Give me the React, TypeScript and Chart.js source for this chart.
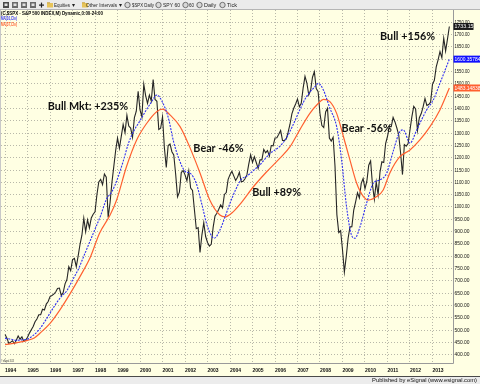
import React, { useEffect, useRef } from "react";
import { Chart, registerables } from "chart.js";

Chart.register(...registerables);

// ---------- DATA ----------
const START_YEAR = 1994;

// S&P 500 monthly closes, Jan 1994 .. Oct 2013 (last = partial month)
const closes1994to1998 = [
  481.6, 467.1, 445.8, 450.9, 456.5, 444.3, 458.3, 475.5, 462.7, 472.4, 453.7, 459.3,
  470.4, 487.4, 500.7, 514.7, 533.4, 544.8, 562.1, 561.9, 584.4, 581.5, 605.4, 615.9,
  636.0, 640.4, 645.5, 654.2, 669.1, 670.6, 640.0, 652.0, 687.3, 705.3, 757.0, 740.7,
  786.2, 790.8, 757.1, 801.3, 848.3, 885.1, 954.3, 899.5, 947.3, 914.6, 955.4, 970.4,
  980.3, 1049.3, 1101.8, 1111.8, 1090.8, 1133.8, 1120.7, 957.3, 1017.0, 1098.7, 1163.6, 1229.2,
];
const closes1999to2003 = [
  1279.6, 1238.3, 1286.4, 1335.2, 1301.8, 1372.7, 1328.7, 1320.4, 1282.7, 1362.9, 1388.9, 1469.3,
  1394.5, 1366.4, 1498.6, 1452.4, 1420.6, 1454.6, 1430.8, 1517.7, 1436.5, 1429.4, 1315.0, 1320.3,
  1366.0, 1239.9, 1160.3, 1249.5, 1255.8, 1224.4, 1211.2, 1133.6, 1040.9, 1059.8, 1139.5, 1148.1,
  1130.2, 1106.7, 1147.4, 1076.9, 1067.1, 989.8, 911.6, 916.1, 815.3, 885.8, 936.3, 879.8,
  855.7, 841.2, 848.2, 916.9, 963.6, 974.5, 990.3, 1008.0, 996.0, 1050.7, 1058.2, 1111.9,
];
const closes2004to2008 = [
  1131.1, 1144.9, 1126.2, 1107.3, 1120.7, 1140.8, 1101.7, 1104.2, 1114.6, 1130.2, 1173.8, 1211.9,
  1181.3, 1203.6, 1180.6, 1156.9, 1191.5, 1191.3, 1234.2, 1220.3, 1228.8, 1207.0, 1249.5, 1248.3,
  1280.1, 1280.7, 1294.8, 1310.6, 1270.1, 1270.2, 1276.7, 1303.8, 1335.9, 1377.9, 1400.6, 1418.3,
  1438.2, 1406.8, 1420.9, 1482.4, 1530.6, 1503.4, 1455.3, 1474.0, 1526.8, 1549.4, 1481.1, 1468.4,
  1378.6, 1330.6, 1322.7, 1385.6, 1400.4, 1280.0, 1267.4, 1282.8, 1166.4, 968.8, 896.2, 903.3,
];
const closes2009to2013 = [
  825.9, 735.1, 797.9, 872.8, 919.1, 919.3, 987.5, 1020.6, 1057.1, 1036.2, 1095.6, 1115.1,
  1073.9, 1104.5, 1169.4, 1186.7, 1089.4, 1030.7, 1101.6, 1049.3, 1141.2, 1183.3, 1180.6, 1257.6,
  1286.1, 1327.2, 1325.8, 1363.6, 1345.2, 1320.6, 1292.3, 1218.9, 1131.4, 1253.3, 1247.0, 1257.6,
  1312.4, 1365.7, 1408.5, 1397.9, 1310.3, 1362.2, 1379.3, 1406.6, 1440.7, 1412.2, 1416.2, 1426.2,
  1498.1, 1514.7, 1569.2, 1597.6, 1630.7, 1606.3, 1685.7, 1633.0, 1681.6, 1733.15,
];

// MA(10,Clo): time (fractional year) and value
const ma10Time = [
  1994.0, 1994.25, 1994.5, 1994.75, 1995.0, 1995.25, 1995.5, 1995.75, 1996.0, 1996.25, 1996.5, 1996.75,
  1997.0, 1997.25, 1997.5, 1997.75, 1998.0, 1998.25, 1998.5, 1998.75, 1999.0, 1999.25, 1999.5, 1999.75,
  2000.0, 2000.25, 2000.5, 2000.75, 2001.0, 2001.25, 2001.5, 2001.75, 2002.0, 2002.25, 2002.5, 2002.75,
  2003.0, 2003.3, 2003.55, 2003.8, 2004.0, 2004.25, 2004.5, 2004.75, 2005.0, 2005.33, 2005.75, 2006.2,
  2006.5, 2006.8, 2007.1, 2007.4, 2007.78, 2007.93, 2008.15, 2008.44, 2008.74, 2008.96, 2009.18, 2009.4,
  2009.55, 2009.78, 2010.07, 2010.37, 2010.67, 2010.96, 2011.26, 2011.55, 2011.7, 2012.0, 2012.3, 2012.74,
  2013.04, 2013.33, 2013.75,
];
const ma10Value = [
  466, 463, 458, 460, 463, 478, 500, 532, 569, 605, 636, 660,
  703, 745, 800, 855, 910, 965, 1030, 1062, 1115, 1185, 1262, 1313,
  1350, 1390, 1425, 1455, 1425, 1365, 1262, 1190, 1145, 1135, 1096, 1010,
  920, 873, 906, 965, 1015, 1070, 1112, 1125, 1145, 1171, 1215, 1245,
  1279, 1333, 1394, 1448, 1489, 1502, 1475, 1401, 1326, 1191, 1001, 886,
  873, 920, 1015, 1096, 1110, 1137, 1228, 1306, 1313, 1259, 1313, 1394,
  1435, 1502, 1600,
];

// MA(37,Clo)
const ma37Time = [
  1994.0, 1994.5, 1995.0, 1995.3, 1995.55, 1996.0, 1996.44, 1996.9, 1997.33, 1997.8, 1998.2, 1998.67,
  1998.96, 1999.4, 1999.85, 2000.3, 2000.74, 2001.0, 2001.33, 2001.78, 2002.2, 2002.67, 2003.1, 2003.55,
  2003.8, 2004.15, 2004.44, 2005.04, 2005.63, 2006.22, 2006.67, 2007.1, 2007.55, 2007.93, 2008.15, 2008.44,
  2008.74, 2009.04, 2009.33, 2009.63, 2009.93, 2010.15, 2010.52, 2010.81, 2011.1, 2011.55, 2012.0, 2012.44,
  2012.89, 2013.33, 2013.75,
];
const ma37Value = [
  440, 448, 458, 468, 487, 527, 582, 649, 717, 798, 893, 967,
  1028, 1164, 1272, 1340, 1387, 1397, 1374, 1326, 1245, 1137, 1028, 967,
  960, 981, 1010, 1082, 1143, 1198, 1245, 1313, 1380, 1421, 1437, 1428,
  1380, 1286, 1191, 1096, 1042, 1028, 1042, 1069, 1137, 1204, 1231, 1272,
  1326, 1394, 1483,
];

const yearTicks = [
  1994, 1995, 1996, 1997, 1998, 1999, 2000, 2001, 2002, 2003,
  2004, 2005, 2006, 2007, 2008, 2009, 2010, 2011, 2012, 2013,
];
const priceTicks = [
  400, 450, 500, 550, 600, 650, 700, 750, 800, 850, 900, 950, 1000, 1050,
  1100, 1150, 1200, 1250, 1300, 1350, 1400, 1450, 1500, 1550, 1600, 1650, 1700, 1750,
];

// Last-value tags on the right axis
const tagValues = [1733.15, 1600.35784, 1483.14838];
const tagTexts = ["1733.15", "1600.35784", "1483.14838"];

// Annotation texts anchored to (year, price)
const noteTexts = ["Bull Mkt: +235%", "Bear -46%", "Bull +89%", "Bear -56%", "Bull +156%"];
const noteYears = [1995.9, 2002.37, 2004.99, 2008.96, 2010.67];
const notePrices = [1406, 1239, 1058, 1320, 1694];

// ---------- STYLE ----------
const CREAM = "#FFFFE3";
const GRID = "rgba(160,160,150,0.75)";
const PRICE_COLOR = "#262626";
const MA10_COLOR = "#2f2ff2";
const MA37_COLOR = "#ff6030";
const SANS = '"Liberation Sans", Arial, sans-serif';

const priceData = [
  ...closes1994to1998,
  ...closes1999to2003,
  ...closes2004to2008,
  ...closes2009to2013,
].map((v, i) => ({ x: START_YEAR + i / 12, y: v }));
const ma10Data = ma10Time.map((t, i) => ({ x: t, y: ma10Value[i] }));
const ma37Data = ma37Time.map((t, i) => ({ x: t, y: ma37Value[i] }));

const chromePlugin = {
  id: "chrome",
  beforeDraw(chart: any) {
    const ctx = chart.ctx as CanvasRenderingContext2D;
    ctx.save();
    ctx.fillStyle = CREAM;
    ctx.fillRect(0, 0, chart.width, chart.height);
    ctx.restore();
  },
  afterDraw(chart: any) {
    const ctx = chart.ctx as CanvasRenderingContext2D;
    const area = chart.chartArea;
    const xs = chart.scales.x;
    const ys = chart.scales.y;
    const W = chart.width;
    const H = chart.height;
    ctx.save();

    // plot frame
    ctx.strokeStyle = "#9a9a9a";
    ctx.lineWidth = 1;
    ctx.beginPath();
    ctx.moveTo(Math.round(area.right) + 0.5, area.top);
    ctx.lineTo(Math.round(area.right) + 0.5, Math.round(area.bottom) + 0.5);
    ctx.lineTo(area.left - 0.5, Math.round(area.bottom) + 0.5);
    ctx.stroke();
    ctx.strokeStyle = "#c8c8c8";
    ctx.beginPath();
    ctx.moveTo(0.5, area.top);
    ctx.lineTo(0.5, area.bottom);
    ctx.stroke();

    // right axis labels
    ctx.fillStyle = "#111";
    ctx.font = `5.5px ${SANS}`;
    ctx.textAlign = "left";
    ctx.textBaseline = "middle";
    priceTicks.forEach((v) => {
      const y = ys.getPixelForValue(v);
      ctx.fillText(v.toFixed(2), area.right + 2, y, 15);
    });

    // value tags
    const tagBg = ["#1a1a1a", "#1010ff", "#ff6030"];
    tagValues.forEach((v, i) => {
      const y = ys.getPixelForValue(v);
      const w = i === 0 ? 20 : 27;
      ctx.fillStyle = tagBg[i];
      ctx.fillRect(area.right + 1, y - 3.5, w, 7);
      ctx.fillStyle = "#fff";
      ctx.font = `5.5px ${SANS}`;
      ctx.fillText(tagTexts[i], area.right + 2, y, w - 1);
    });

    // header texts inside the plot
    ctx.textAlign = "left";
    ctx.textBaseline = "middle";
    ctx.fillStyle = "#000";
    ctx.font = `bold 5.5px ${SANS}`;
    ctx.fillText("(C,$SPX - S&P 500 INDEX,M) Dynamic,0:00-24:00", 1, 13, 102);
    ctx.fillStyle = MA10_COLOR;
    ctx.fillText("MA(10,Clo)", 1, 18.5, 16);
    ctx.fillStyle = MA37_COLOR;
    ctx.fillText("MA(37,Clo)", 1, 24.5, 16);
    ctx.fillStyle = "#333";
    ctx.font = `4px ${SANS}`;
    ctx.fillText("© eSignal 2013", 1, area.bottom - 2.5, 13);

    // annotations
    ctx.fillStyle = "#111";
    ctx.font = `bold 10.8px Lato, "Open Sans", sans-serif`;
    ctx.textBaseline = "middle";
    noteTexts.forEach((t, i) => {
      ctx.fillText(t, xs.getPixelForValue(noteYears[i]), ys.getPixelForValue(notePrices[i]));
    });

    // x-axis bottom line
    ctx.strokeStyle = "#4a4a4a";
    ctx.beginPath();
    ctx.moveTo(0, H - 7.5);
    ctx.lineTo(W, H - 7.5);
    ctx.stroke();

    // footer bar
    ctx.fillStyle = "#ececec";
    ctx.fillRect(0, H - 7, W, 7);
    ctx.fillStyle = "#111";
    ctx.font = `6px ${SANS}`;
    ctx.textAlign = "right";
    ctx.textBaseline = "middle";
    ctx.fillText("Published by eSignal (www.esignal.com)", W - 3, H - 3.3, 105);

    // toolbar
    ctx.fillStyle = "#ebebeb";
    ctx.fillRect(0, 0, W, 10);
    ctx.strokeStyle = "#b5b5b5";
    ctx.beginPath();
    ctx.moveTo(0, 9.5);
    ctx.lineTo(W, 9.5);
    ctx.stroke();
    // small icons
    [3, 12, 21, 30].forEach((x, i) => {
      ctx.fillStyle = i === 0 ? "#4a4a4a" : "#6a6a6a";
      ctx.fillRect(x, 2, 6, 6);
      ctx.fillStyle = "#e0e0e0";
      ctx.fillRect(x + 1.5, 3.5, 3, 2.5);
    });
    ctx.fillStyle = "#222";
    ctx.fillRect(39, 4.5, 5, 1.2);
    ctx.fillRect(40.9, 2.6, 1.2, 5);
    [47, 82].forEach((x) => {
      ctx.fillStyle = "#e7c45a";
      ctx.fillRect(x, 3, 6, 4.5);
      ctx.fillStyle = "#c9a23c";
      ctx.fillRect(x, 2.3, 3, 1);
    });
    [127.5, 158.5, 185.5, 199.5, 222.5].forEach((x) => {
      ctx.beginPath();
      ctx.arc(x, 5, 2.7, 0, Math.PI * 2);
      ctx.fillStyle = "#d8d8d8";
      ctx.fill();
      ctx.strokeStyle = "#555";
      ctx.lineWidth = 0.8;
      ctx.stroke();
    });
    ctx.fillStyle = "#222";
    ctx.font = `5.5px ${SANS}`;
    ctx.textAlign = "left";
    ctx.textBaseline = "middle";
    const tb: [string, number, number][] = [
      ["Equities", 54, 16],
      ["▾", 72, 3],
      ["Other Intervals", 86, 31],
      ["▾", 119, 3],
      ["$SPX Daily", 132, 22],
      ["SPY 60", 163, 17],
      ["60", 189, 5],
      ["Daily", 204, 13],
      ["Tick", 227, 10],
    ];
    tb.forEach(([t, x, w]) => ctx.fillText(t, x, 5.5, w));

    ctx.restore();
  },
};

export default function App() {
  const ref = useRef<HTMLCanvasElement | null>(null);

  useEffect(() => {
    document.body.style.margin = "0";
    const canvas = ref.current;
    if (!canvas) return;
    const chart = new Chart(canvas, {
      type: "line",
      data: {
        datasets: [
          {
            label: "MA(10,Clo)",
            data: ma10Data,
            borderColor: MA10_COLOR,
            borderWidth: 1.1,
            borderDash: [2, 1.2],
            pointRadius: 0,
            cubicInterpolationMode: "monotone",
            fill: false,
          },
          {
            label: "MA(37,Clo)",
            data: ma37Data,
            borderColor: MA37_COLOR,
            borderWidth: 1.2,
            pointRadius: 0,
            cubicInterpolationMode: "monotone",
            fill: false,
          },
          {
            label: "$SPX",
            data: priceData,
            borderColor: PRICE_COLOR,
            borderWidth: 1.1,
            pointRadius: 0,
            tension: 0,
            fill: false,
          },
        ],
      },
      options: {
        animation: false,
        responsive: false,
        devicePixelRatio: 1,
        parsing: false,
        normalized: true,
        layout: { padding: { left: 1, right: 0, top: 10, bottom: 7 } },
        plugins: {
          legend: { display: false },
          tooltip: { enabled: false },
          title: { display: false },
        },
        scales: {
          x: {
            type: "linear",
            position: "bottom",
            min: 1993.82,
            max: 2013.89,
            afterBuildTicks: (scale: any) => {
              scale.ticks = yearTicks.map((v) => ({ value: v }));
            },
            afterFit: (scale: any) => {
              scale.height = 14;
            },
            ticks: {
              align: "start",
              autoSkip: false,
              maxRotation: 0,
              padding: 5,
              color: "#111",
              font: { size: 5, weight: "bold", family: SANS },
              callback: (v: any) => String(v),
            },
            grid: { color: GRID, lineWidth: 1, drawTicks: false },
            border: { display: false, dash: [1, 2] },
          },
          y: {
            type: "linear",
            position: "right",
            min: 366,
            max: 1800,
            afterBuildTicks: (scale: any) => {
              scale.ticks = priceTicks.map((v) => ({ value: v }));
            },
            afterFit: (scale: any) => {
              scale.width = 27.5;
            },
            ticks: { display: false },
            grid: { color: GRID, lineWidth: 1, drawTicks: false },
            border: { display: false, dash: [1, 2] },
          },
        },
      },
      plugins: [chromePlugin],
    } as any);
    return () => chart.destroy();
  }, []);

  return (
    <div style={{ position: "fixed", left: 0, top: 0, width: 480, height: 384 }}>
      <canvas ref={ref} width={480} height={384} style={{ display: "block", width: 480, height: 384 }} />
    </div>
  );
}
